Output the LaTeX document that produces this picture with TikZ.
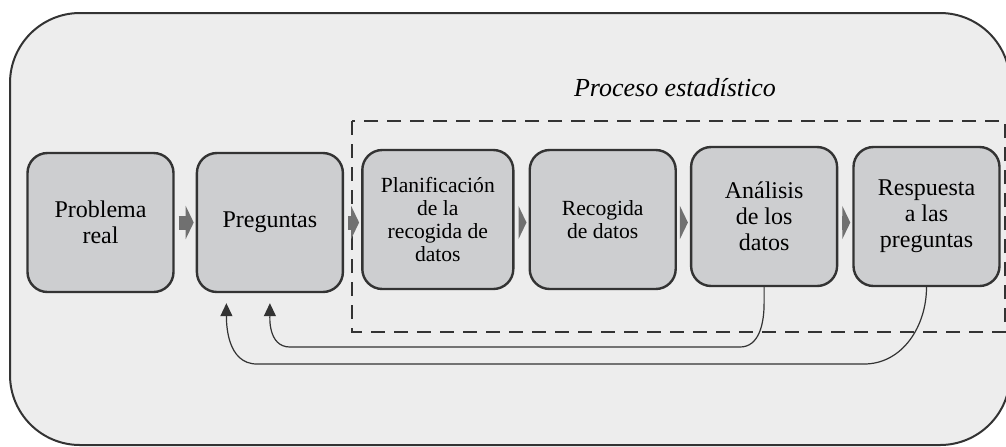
\documentclass[tikz,border=0pt]{standalone}
\usepackage{fontspec}
\setmainfont{Liberation Serif}
\usepackage{tikz}
\usetikzlibrary{positioning, arrows.meta}

\definecolor{panel}{HTML}{EDEDED}
\definecolor{boxfill}{HTML}{CDCED0}
\definecolor{edge}{HTML}{333333}
\definecolor{flowgray}{HTML}{707070}

\begin{document}
\begin{tikzpicture}[
    box/.style={draw=edge, fill=boxfill, line width=1.2pt, rounded corners=10pt,
                minimum width=73pt, minimum height=69.5pt, align=center,
                inner sep=1pt, font=\fontsize{12}{13}\selectfont},
    small/.style={font=\fontsize{10.8}{11.6}\selectfont},
    flow/.style={draw=flowgray, line width=7pt, -{Triangle[length=4pt,width=16.5pt]},
                 shorten <=2pt, shorten >=1pt},
    back/.style={draw=edge, line width=0.6pt, -{Triangle[length=6.5pt,width=6pt]},
                 shorten >=5pt}
  ]
        \useasboundingbox (0,0) rectangle (503pt,-223pt);
        \draw[edge, fill=panel, line width=1pt, rounded corners=35pt]
            (5pt,-6.5pt) rectangle (505pt,-222.5pt);
        \draw[edge, line width=1.2pt, dash pattern=on 7pt off 4.5pt]
            (176pt,-60.5pt) rectangle (502.5pt,-166pt);
        \node[font=\fontsize{13}{15}\selectfont\itshape] (title) at (337.5pt,-44pt) {Proceso estadístico};

        \node[box] (prob) at (50.25pt,-111.25pt) {Problema\\real};
        \node[box, right=10.5pt of prob]                        (preg) {Preguntas};
        \node[box, small, minimum width=75.5pt, right=8.5pt of preg, yshift=1.5pt]
                                                                (plan) {Planificación\\de la\\recogida de\\datos};
        \node[box, small, right=7pt of plan]                    (reco) {Recogida\\de datos};
        \node[box, right=6.5pt of reco, yshift=1.5pt]           (anal) {Análisis\\de los\\datos};
        \node[box, right=7pt of anal]                           (resp) {Respuesta\\a las\\preguntas};

        \draw[flow] (prob.east) -- (preg.west);
        \draw[flow] (preg.east) -- (preg.east -| plan.west);
        \draw[flow] (plan.east |- preg.east) -- (preg.east -| reco.west);
        \draw[flow] (reco.east |- preg.east) -- (preg.east -| anal.west);
        \draw[flow] (anal.east |- preg.east) -- (preg.east -| resp.west);

        % vuelta a las preguntas
        \draw[back] (anal.south) -- ++(0,-8pt) to[out=-90,in=0] (370pt,-173.5pt)
            -- (145pt,-173.5pt) to[out=180,in=-90] (preg.south);
        \draw[back] (resp.south) to[out=-90,in=0] (432pt,-182pt)
            -- (128.5pt,-182pt) to[out=180,in=-90] ([xshift=-21.75pt]preg.south);
\end{tikzpicture}
\end{document}
